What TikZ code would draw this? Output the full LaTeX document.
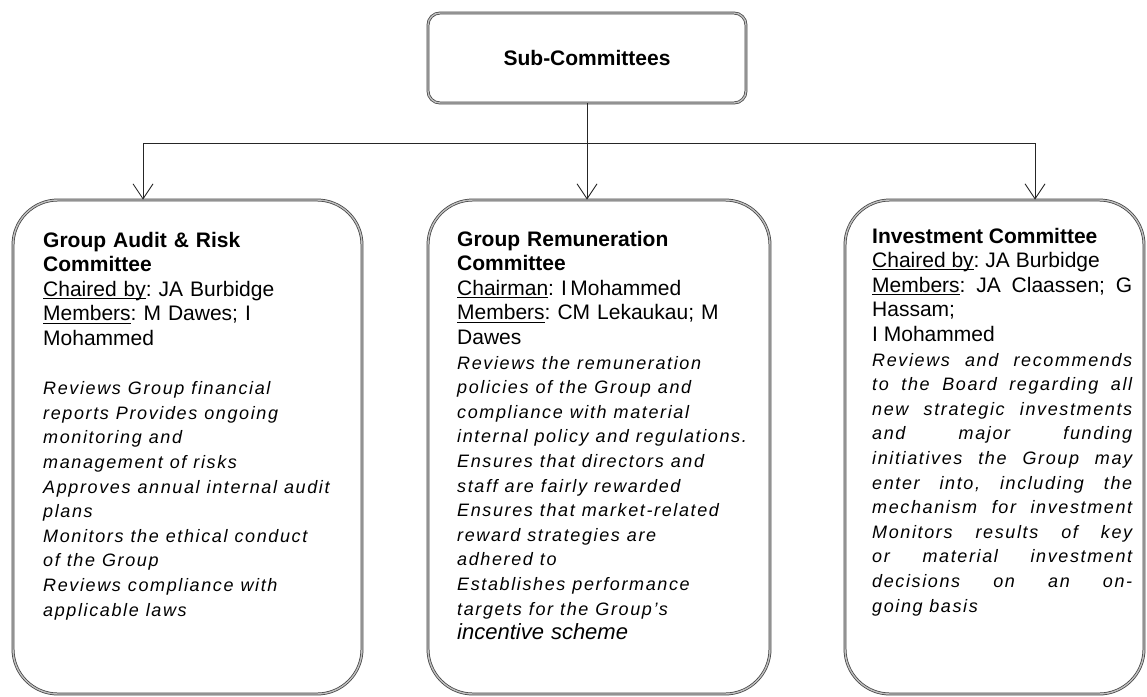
\documentclass[tikz,border=0pt]{standalone}
\usepackage{fontspec}
\setmainfont{Liberation Sans}
\newfontfamily\trackfont[LetterSpace=9]{Liberation Sans}
\setlength{\parindent}{0pt}
\frenchspacing
\tolerance=10000
\hbadness=10000
\hfuzz=20pt
\usetikzlibrary{arrows.meta}
\newlength\undlw
\newcommand{\undl}[1]{\leavevmode\settowidth{\undlw}{#1}\rlap{\rule[-2.8pt]{\undlw}{1pt}}#1}
\newcommand{\cmtfont}{\fontsize{21}{24.6}\selectfont}
\newcommand{\dutyfont}{\trackfont\itshape\fontsize{18}{24.6}\selectfont}
\begin{document}
\begin{tikzpicture}[x=1pt, y=-1pt,
  box/.style={draw=black!75, double=gray!50, double distance=1.4pt, line width=0.75pt, inner sep=0pt},
  topbox/.style={box, rounded corners=12pt, minimum width=318pt, minimum height=90pt, font=\cmtfont\bfseries},
  cbox/.style={box, rounded corners=45pt, minimum height=494pt},
  conn/.style={draw=black!85, line width=0.9pt},
  arr/.style={conn, -{Straight Barb[length=15pt,width=20pt]}},
  txt/.style={anchor=base west, inner sep=0pt, text width=#1, align=left, font=\cmtfont},
]
\useasboundingbox (0,0) rectangle (1147,696);

\node[topbox] (top) at (587,58) {Sub-Committees};

\node[cbox, minimum width=349pt] (audit) at (187.5,447) {};
\node[cbox, minimum width=342pt] (remun) at (599,447) {};
\node[cbox, minimum width=299pt] (invest) at (994.5,447) {};

\coordinate (hub) at (587,143);
\coordinate (auditIn) at (143,0 |- audit.north);
\coordinate (remunIn) at (top.south |- remun.north);
\coordinate (investIn) at (1035,0 |- invest.north);

\draw[conn] (top.south) -- (hub);
\draw[arr] (hub) -| (auditIn);
\draw[arr] (hub) -| (investIn);
\draw[arr] (hub) -- (remunIn);

\node[txt=315pt] (auditTxt) at (43,247) {%
\textbf{Group Audit \& Risk}\\
\textbf{Committee}\\
\undl{Chaired by}: JA Burbidge\\
\undl{Members}: M Dawes; I\\
Mohammed\\
\mbox{}\\
\dutyfont Reviews Group financial\\
reports Provides ongoing\\
monitoring and\\
management of risks\\
Approves annual internal audit\\
plans\\
Monitors the ethical conduct\\
of the Group\\
Reviews compliance with\\
applicable laws};

\node[txt=300pt] (remunTxt) at (457,246) {%
\textbf{Group Remuneration}\\
\textbf{Committee}\\
\undl{Chairman}: I\,Mohammed\\
\undl{Members}: CM Lekaukau; M\\
Dawes\\
{\dutyfont Reviews the remuneration\\
policies of the Group and\\
compliance with material\\
internal policy and regulations.\\
Ensures that directors and\\
staff are fairly rewarded\\
Ensures that market-related\\
reward strategies are\\
adhered to\\
Establishes performance\\
targets for the Group’s}\\
{\itshape\fontsize{22}{24.6}\selectfont incentive scheme}};

\node[txt=260pt, align=justify] (investTxt) at (872,243) {%
\textbf{Investment Committee}\\
\undl{Chaired by}: JA Burbidge\\
\undl{Members}: JA Claassen; G\linebreak
Hassam;\\
I Mohammed\\
{\dutyfont Reviews and recommends\linebreak
to the Board regarding all\linebreak
new strategic investments\linebreak
and major funding\linebreak
initiatives the Group may\linebreak
enter into, including the\linebreak
mechanism for investment\linebreak
Monitors results of key\linebreak
or material investment\linebreak
decisions on an on-\linebreak
going basis}};
\end{tikzpicture}
\end{document}
